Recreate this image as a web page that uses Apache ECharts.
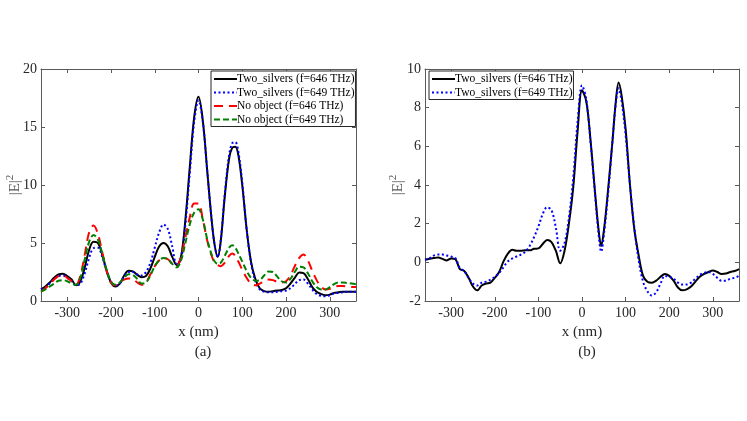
<!DOCTYPE html>
<html>
<head>
<meta charset="utf-8">
<script src="https://cdn.jsdelivr.net/npm/echarts@6/dist/echarts.min.js"></script>
<style>
    html, body { margin: 0; padding: 0; background: #ffffff; }
    #chart { width: 747px; height: 421px; }
</style>
</head>
<body>
<div id="chart"></div>
<script>
// ============================================
// DATA
// ============================================

// shared x positions (nm), denser around the two main peaks
const xGrid = [-360, -350, -340, -330, -320, -310, -300, -290, -280, -270, -260, -250, -240, -230, -220, -210,
    -200, -190, -180, -170, -160, -150, -140, -130, -120, -110, -100, -90, -80, -70, -60, -50, -40, -30, -20, -10,
    0, 10, 20, 30, 37, 44, 51, 60, 70, 77, 84, 91, 100, 110, 120, 130, 140, 150, 160, 170, 180, 190, 200, 210,
    220, 230, 240, 250, 260, 270, 280, 290, 300, 310, 320, 330, 340, 350, 360];

const xTicks = [-300, -200, -100, 0, 100, 200, 300];

const seriesNamesA = ['Two_silvers (f=646 THz)', 'Two_silvers (f=649 THz)', 'No object (f=646 THz)', 'No object (f=649 THz)'];
const seriesNamesB = ['Two_silvers (f=646 THz)', 'Two_silvers (f=649 THz)'];

// panel (a)
const silver646A = [1.0, 1.25, 1.6, 2.0, 2.3, 2.35, 2.15, 1.85, 1.35, 1.7, 2.9, 4.4, 5.1, 5.0, 4.0, 2.6,
    1.6, 1.25, 1.5, 2.2, 2.6, 2.55, 2.25, 2.05, 2.15, 2.8, 3.8, 4.7, 5.0, 4.7, 3.8, 3.1, 3.8, 7.0, 11.5, 15.8,
    17.6, 15.5, 11.2, 7.0, 4.8, 3.8, 5.2, 9.0, 12.3, 13.2, 13.3, 12.6, 10.0, 6.2, 3.4, 1.9, 1.1, 0.85, 0.8, 0.85, 0.9, 0.95, 1.1, 1.5,
    2.0, 2.45, 2.4, 1.9, 1.2, 0.8, 0.6, 0.5, 0.55, 0.7, 0.75, 0.8, 0.8, 0.8, 0.8];

const silver649A = [1.0, 1.2, 1.5, 1.9, 2.15, 2.2, 2.0, 1.7, 1.35, 1.5, 2.4, 3.7, 4.55, 4.6, 3.8, 2.6,
    1.6, 1.3, 1.5, 2.1, 2.5, 2.5, 2.3, 2.2, 2.5, 3.3, 4.6, 5.9, 6.6, 6.2, 4.7, 3.2, 3.6, 6.6, 11.0, 15.4,
    17.3, 15.4, 11.2, 7.0, 4.8, 3.8, 5.3, 9.2, 12.6, 13.6, 13.7, 12.9, 10.2, 6.2, 3.3, 1.7, 1.0, 0.8, 0.75, 0.75, 0.8, 0.85, 0.9, 1.1,
    1.45, 1.8, 1.85, 1.5, 1.0, 0.6, 0.45, 0.4, 0.5, 0.65, 0.7, 0.75, 0.8, 0.8, 0.8];

const empty646A = [0.8, 1.1, 1.45, 1.85, 2.15, 2.2, 2.0, 1.7, 1.4, 2.2, 4.0, 5.9, 6.5, 5.8, 4.2, 2.6,
    1.6, 1.35, 1.6, 1.85, 1.95, 1.9, 1.6, 1.4, 1.6, 2.3, 3.0, 3.5, 3.7, 3.6, 3.2, 3.0, 3.8, 5.5, 7.2, 8.4,
    8.4, 7.0, 5.2, 3.9, 3.3, 3.1, 3.0, 3.3, 3.9, 4.1, 3.9, 3.4, 2.7, 2.0, 1.5, 1.35, 1.5, 1.7, 1.85, 1.8, 1.65, 1.6, 1.7, 2.2,
    3.0, 3.7, 4.0, 3.5, 2.6, 1.8, 1.25, 1.0, 1.05, 1.2, 1.3, 1.3, 1.25, 1.2, 1.2];

const empty649A = [0.8, 1.0, 1.25, 1.5, 1.75, 1.8, 1.7, 1.5, 1.4, 2.0, 3.6, 5.1, 5.7, 5.3, 4.1, 2.7,
    1.7, 1.4, 1.6, 2.0, 2.3, 2.25, 1.9, 1.5, 1.6, 2.2, 3.0, 3.5, 3.7, 3.6, 3.2, 2.9, 3.5, 5.0, 6.6, 7.6,
    7.9, 7.0, 5.3, 4.0, 3.4, 3.2, 3.3, 3.9, 4.6, 4.8, 4.6, 4.1, 3.4, 2.6, 2.0, 1.75, 1.8, 2.2, 2.55, 2.5, 2.1, 1.7, 1.6, 1.9,
    2.5, 2.95, 2.9, 2.4, 1.7, 1.2, 1.0, 1.0, 1.2, 1.45, 1.6, 1.6, 1.55, 1.5, 1.45];

// panel (b)
const silver646B = [0.14, 0.18, 0.22, 0.25, 0.18, 0.1, 0.2, 0.15, -0.35, -0.45, -0.8, -1.25, -1.45, -1.2, -1.1, -1.05,
    -0.8, -0.5, 0.05, 0.45, 0.65, 0.6, 0.6, 0.62, 0.62, 0.7, 0.72, 0.95, 1.15, 1.05, 0.6, -0.05, 0.6, 2.0, 3.9, 6.8,
    8.9, 8.3, 6.2, 3.6, 1.9, 0.85, 1.8, 3.8, 6.3, 8.2, 9.3, 8.6, 6.9, 4.0, 1.7, 0.35, -0.7, -1.0, -1.05, -0.95, -0.75, -0.6, -0.7, -0.95,
    -1.3, -1.45, -1.4, -1.25, -1.0, -0.75, -0.6, -0.5, -0.42, -0.5, -0.6, -0.58, -0.5, -0.45, -0.35];

const silver649B = [0.14, 0.2, 0.35, 0.4, 0.4, 0.35, 0.3, 0.2, -0.3, -0.45, -0.8, -1.1, -1.2, -1.05, -1.0, -0.9,
    -0.75, -0.55, -0.25, 0.05, 0.2, 0.3, 0.4, 0.55, 0.85, 1.3, 1.85, 2.5, 2.85, 2.7, 1.8, 0.6, 1.0, 2.3, 4.4, 7.3,
    9.15, 8.4, 6.1, 3.5, 1.7, 0.55, 1.6, 3.6, 6.3, 8.1, 9.0, 8.3, 6.6, 4.0, 1.8, 0.1, -1.0, -1.5, -1.72, -1.55, -1.1, -0.7, -0.75, -0.85,
    -1.05, -1.15, -1.15, -1.05, -0.85, -0.65, -0.55, -0.5, -0.6, -0.8, -0.95, -0.95, -0.85, -0.8, -0.7];

// ============================================
// STYLE HELPERS
// ============================================

const FONT = '"Liberation Serif", "Times New Roman", serif';
const AXIS_COLOR = '#5a5a5a';
const TEXT_COLOR = '#262626';

function pairs(values) {
    return xGrid.map((x, i) => [x, values[i]]);
}

function xAxisPair(gridIndex) {
    const base = {
        type: 'value',
        gridIndex: gridIndex,
        min: -360,
        max: 360,
        splitLine: { show: false },
        axisLine: { show: true, onZero: false, lineStyle: { color: AXIS_COLOR, width: 1 } }
    };
    return [
        Object.assign({}, base, {
            position: 'bottom',
            name: 'x (nm)',
            nameLocation: 'middle',
            nameGap: 24,
            nameTextStyle: { fontFamily: FONT, fontSize: 15, color: TEXT_COLOR },
            axisTick: { show: true, inside: true, length: 4, customValues: xTicks, lineStyle: { color: AXIS_COLOR } },
            axisLabel: { customValues: xTicks, fontFamily: FONT, fontSize: 14, color: TEXT_COLOR, margin: 5 }
        }),
        Object.assign({}, base, {
            position: 'top',
            axisTick: { show: true, inside: true, length: 4, customValues: xTicks, lineStyle: { color: AXIS_COLOR } },
            axisLabel: { show: false }
        })
    ];
}

function yAxisPair(gridIndex, min, max, interval) {
    const base = {
        type: 'value',
        gridIndex: gridIndex,
        min: min,
        max: max,
        interval: interval,
        splitLine: { show: false },
        axisLine: { show: true, onZero: false, lineStyle: { color: AXIS_COLOR, width: 1 } },
        axisTick: { show: true, inside: true, length: 4, lineStyle: { color: AXIS_COLOR } }
    };
    return [
        Object.assign({}, base, {
            position: 'left',
            axisLabel: { fontFamily: FONT, fontSize: 14, color: TEXT_COLOR, margin: 4 }
        }),
        Object.assign({}, base, {
            position: 'right',
            axisLabel: { show: false }
        })
    ];
}

// |E|^2 label, rotated like MATLAB's ylabel
function yLabel(cx, cy) {
    return {
        type: 'text',
        x: cx,
        y: cy,
        rotation: Math.PI / 2,
        style: {
            text: '|E|{s|2}',
            align: 'center',
            verticalAlign: 'middle',
            fontFamily: FONT,
            fontSize: 15,
            fill: '#555555',
            rich: { s: { fontFamily: FONT, fontSize: 11, fill: '#555555', padding: [0, 0, 9, 0] } }
        }
    };
}

function lineSeries(name, values, xIdx, yIdx, color, type) {
    return {
        name: name,
        type: 'line',
        xAxisIndex: xIdx,
        yAxisIndex: yIdx,
        data: pairs(values),
        smooth: 0.35,
        symbol: 'none',
        showSymbol: false,
        lineStyle: { color: color, width: 2, type: type },
        itemStyle: { color: color },
        z: 3
    };
}

function legendBox(names, left) {
    return {
        data: names,
        orient: 'vertical',
        left: left,
        top: 71,
        itemWidth: 23,
        itemHeight: 10,
        itemGap: 1.5,
        padding: [2, 1, 1, 2],
        backgroundColor: '#ffffff',
        borderColor: '#262626',
        borderWidth: 1,
        borderRadius: 0,
        // hide the marker dot, keep only the line sample
        itemStyle: { opacity: 0 },
        textStyle: { fontFamily: FONT, fontSize: 11.5, color: '#000000', padding: [0, 0, 0, -5] }
    };
}

// ============================================
// CHART
// ============================================

const chart = echarts.init(document.getElementById('chart'));

const xA = xAxisPair(0);
const xB = xAxisPair(1);
const yA = yAxisPair(0, 0, 20, 5);
const yB = yAxisPair(1, -2, 10, 2);

const option = {
    animation: false,
    backgroundColor: '#ffffff',
    grid: [
        { left: 41, top: 69, width: 315, height: 232 },
        { left: 425, top: 69, width: 314, height: 232 }
    ],
    xAxis: [xA[0], xA[1], xB[0], xB[1]],
    yAxis: [yA[0], yA[1], yB[0], yB[1]],
    legend: [
        legendBox(seriesNamesA, 211),
        legendBox(seriesNamesB, 429)
    ],
    title: [
        { text: '(a)', left: 198, top: 340, textAlign: 'center',
          textStyle: { fontFamily: FONT, fontSize: 15, fontWeight: 'normal', color: TEXT_COLOR } },
        { text: '(b)', left: 582, top: 340, textAlign: 'center',
          textStyle: { fontFamily: FONT, fontSize: 15, fontWeight: 'normal', color: TEXT_COLOR } }
    ],
    graphic: [yLabel(15, 185), yLabel(398, 185)],
    series: [
        lineSeries(seriesNamesA[0], silver646A, 0, 0, '#000000', 'solid'),
        lineSeries(seriesNamesA[1], silver649A, 0, 0, '#0000ff', [2, 2.5]),
        lineSeries(seriesNamesA[2], empty646A, 0, 0, '#ff0000', [9, 6]),
        lineSeries(seriesNamesA[3], empty649A, 0, 0, '#008000', [6, 3]),
        lineSeries(seriesNamesB[0], silver646B, 2, 2, '#000000', 'solid'),
        lineSeries(seriesNamesB[1], silver649B, 2, 2, '#0000ff', [2, 2.5])
    ]
};

chart.setOption(option);
</script>
</body>
</html>
